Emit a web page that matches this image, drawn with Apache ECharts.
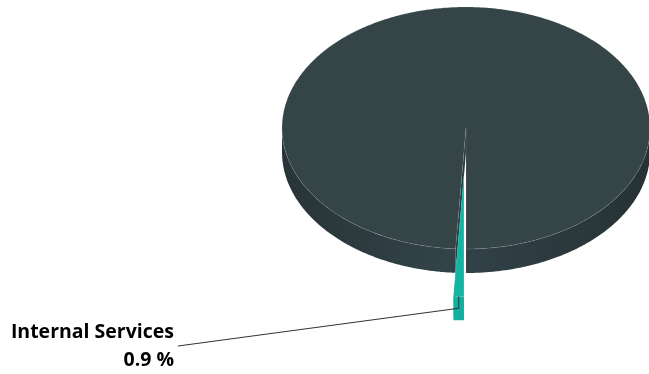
<!DOCTYPE html>
<html>
<head>
<meta charset="utf-8">
<script src="https://cdn.jsdelivr.net/npm/echarts@6/dist/echarts.min.js"></script>
<style>
html,body{margin:0;padding:0;background:#fff;}
#chart{width:649px;height:374px;}
</style>
</head>
<body>
<div id="chart"></div>
<script>
// ---- data ----
const categories = ['Internal Services', 'Other Services'];
const values = [0.9, 99.1];
const sliced = [true, false];
const showLabel = [true, false];
const colors = ['#14b4a3', '#344447'];
const sideColors = [['#0f9e8f', '#13b0a0', '#0e9a8b'], ['#283436', '#33434a', '#263234']];
const cutColors = ['#109d8e', '#2b383a'];

// ---- layout (pixels) ----
const CX = 466, CY = 128, RX = 184, RY = 121, DEPTH = 24;
const SLICE_OFFSET = 72;
const START_ANGLE = 180;
const LABEL_X = 174, LABEL_Y1 = 332, LABEL_Y2 = 360;
const LABEL_FONT = 'bold 19.5px "Open Sans", sans-serif';

const total = values.reduce((a, b) => a + b, 0);
const rad = Math.PI / 180;

function sideGradient(i) {
  const c = sideColors[i];
  return new echarts.graphic.LinearGradient(CX - RX, 0, CX + RX, 0, [
    { offset: 0, color: c[0] },
    { offset: 0.45, color: c[1] },
    { offset: 1, color: c[2] }
  ], true);
}

function renderItem(params, api) {
  const i = params.dataIndex;
  let before = 0;
  for (let k = 0; k < i; k++) before += values[k];
  const v = api.value(0);
  const start = START_ANGLE + before / total * 360;
  const end = start + v / total * 360;
  const mid = (start + end) / 2;
  const off = sliced[i] ? SLICE_OFFSET : 0;
  const dx = off * Math.sin(mid * rad);
  const dy = -off * Math.cos(mid * rad) * RY / RX;
  const P = (a, z) => [CX + RX * Math.sin(a * rad) + dx, CY - RY * Math.cos(a * rad) + dy + z];
  const C = (z) => [CX + dx, CY + dy + z];
  const base = colors[i];
  const zb = i === 0 ? 10 : 0;
  const children = [];
  const sideFill = sideGradient(i);

  // cut faces
  [start, end].forEach(a => {
    children.push({
      type: 'polygon', z2: zb + 1,
      shape: { points: [C(0), P(a, 0), P(a, DEPTH), C(DEPTH)] },
      style: { fill: cutColors[i] }
    });
  });

  // outer side (front half)
  for (let k = -360; k <= 720; k += 360) {
    const s = Math.max(start, 90 + k), e = Math.min(end, 270 + k);
    if (e > s) {
      const topPts = [], botPts = [];
      const n = Math.max(2, Math.ceil((e - s) / 0.5));
      for (let j = 0; j <= n; j++) {
        const a = s + (e - s) * j / n;
        topPts.push(P(a, 0));
        botPts.push(P(a, DEPTH));
      }
      children.push({
        type: 'polygon', z2: zb + 2,
        shape: { points: topPts.concat(botPts.reverse()) },
        style: { fill: sideFill }
      });
    }
  }

  // top face
  const pts = [C(0)];
  const n = Math.max(2, Math.ceil((end - start) / 0.5));
  for (let j = 0; j <= n; j++) pts.push(P(start + (end - start) * j / n, 0));
  children.push({
    type: 'polygon', z2: zb + 3,
    shape: { points: pts },
    style: { fill: base, stroke: 'rgba(255,255,255,0.12)', lineWidth: 1 }
  });

  if (showLabel[i]) {
    const o = P(mid, 0);
    const pct = (v / total * 100).toFixed(1);
    children.push({
      type: 'polyline', z2: zb + 5,
      shape: { points: [[o[0], o[1]], [o[0], o[1] + 12], [LABEL_X + 4, (LABEL_Y1 + LABEL_Y2) / 2]] },
      style: { stroke: '#333', lineWidth: 1, fill: null }
    });
    children.push({
      type: 'text', z2: zb + 6,
      style: {
        x: LABEL_X, y: LABEL_Y1, text: categories[i],
        align: 'right', verticalAlign: 'middle',
        fill: '#000', font: LABEL_FONT
      }
    });
    children.push({
      type: 'text', z2: zb + 6,
      style: {
        x: LABEL_X, y: LABEL_Y2, text: pct + ' %',
        align: 'right', verticalAlign: 'middle',
        fill: '#000', font: LABEL_FONT
      }
    });
  }
  return { type: 'group', children };
}

const chart = echarts.init(document.getElementById('chart'), null, { renderer: 'canvas' });
chart.setOption({
  animation: false,
  backgroundColor: '#ffffff',
  series: [{
    type: 'custom',
    coordinateSystem: 'none',
    renderItem: renderItem,
    data: values.map((v, i) => ({ name: categories[i], value: [v] }))
  }]
});
</script>
</body>
</html>
